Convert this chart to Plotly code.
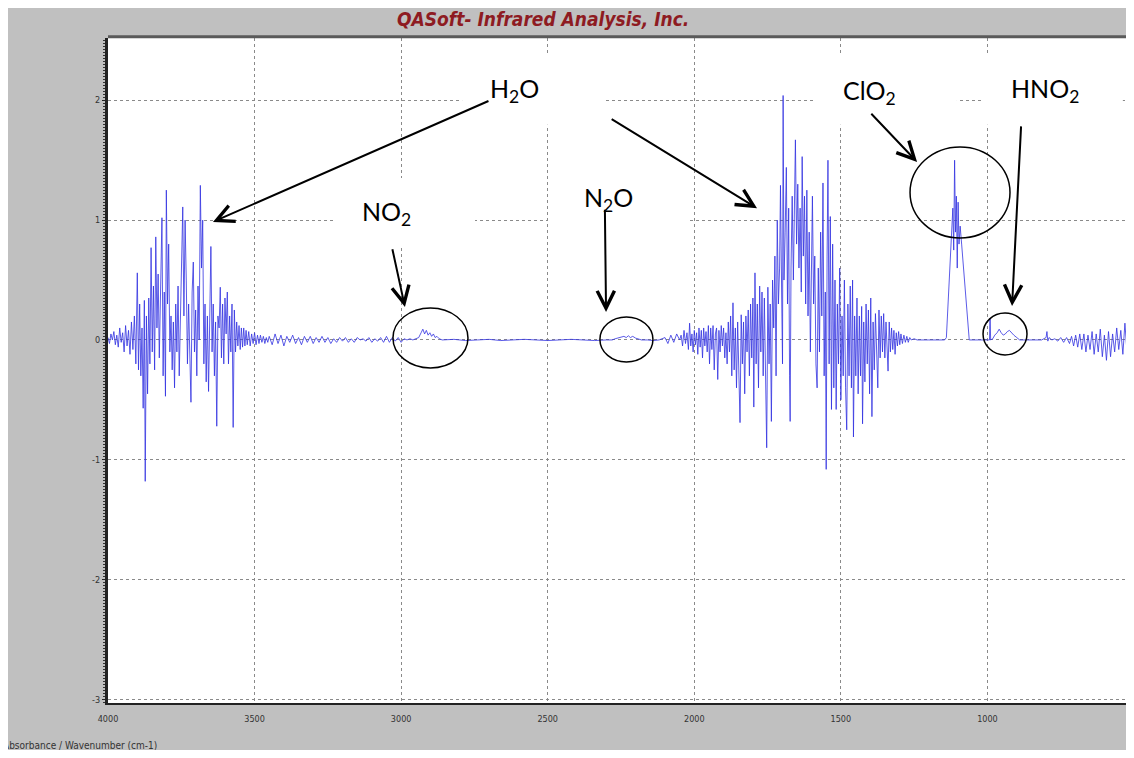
import plotly.graph_objects as go

# ---------------- data (wavenumber cm-1, absorbance) ----------------
oh_stretch = [
    (4000, 0.02), (3995, -0.03), (3990, 0.05), (3985, 0.0), (3980, 0.07), (3975, -0.04),
    (3970, 0.04), (3965, -0.06), (3960, 0.1), (3955, -0.02), (3950, 0.06), (3945, -0.1),
    (3940, 0.12), (3935, -0.05), (3930, 0.08), (3925, -0.12), (3920, 0.15), (3915, -0.08),
    (3910, 0.2), (3905, -0.2), (3900, 0.56), (3896, -0.25), (3892, 0.3), (3888, -0.3),
    (3884, 0.1), (3880, -0.57), (3876, 0.33), (3873, -1.18), (3869, 0.2), (3865, -0.45),
    (3861, 0.35), (3857, -0.2), (3853, 0.77), (3849, -0.1), (3845, 0.45), (3841, -0.25),
    (3837, 0.86), (3833, 0.1), (3829, 0.55), (3825, -0.15), (3820, 0.5), (3816, 1.02),
    (3812, -0.3), (3808, 0.4), (3804, -0.47), (3801, 1.25), (3797, 0.3), (3793, 0.8),
    (3789, -0.1), (3785, 0.2), (3781, -0.25), (3777, 0.15), (3773, -0.4), (3769, 0.3),
    (3765, -0.1), (3761, 0.45), (3757, -0.3), (3753, 0.25), (3749, 0.6), (3745, 1.11),
    (3741, 0.2), (3737, 1.0), (3733, 0.5), (3729, -0.2), (3725, 0.3), (3721, -0.15),
    (3717, -0.52), (3713, 0.4), (3709, 0.65), (3705, -0.1), (3701, 0.25), (3697, -0.3),
    (3693, 0.45), (3689, 0.0), (3685, 1.29), (3681, 0.6), (3677, 1.0), (3673, -0.2),
    (3669, 0.3), (3665, -0.35), (3661, 0.2), (3657, -0.43), (3653, 0.4), (3649, 0.78),
    (3645, -0.1), (3641, 0.3), (3637, -0.3), (3633, 0.15), (3629, -0.72), (3625, 0.2),
    (3621, 0.1), (3617, 0.44), (3613, -0.15), (3609, 0.3), (3605, -0.2), (3601, 0.35),
    (3597, 0.05), (3593, 0.4), (3589, -0.2), (3585, 0.2), (3581, -0.1), (3577, 0.3),
    (3573, -0.73), (3569, 0.25), (3565, -0.1), (3561, 0.15), (3557, -0.05), (3553, 0.12),
    (3549, -0.08), (3545, 0.1), (3541, -0.06), (3537, 0.1), (3533, -0.05), (3529, 0.08),
    (3525, -0.04), (3520, 0.07), (3515, -0.05), (3510, 0.05), (3505, -0.03), (3500, 0.06),
    (3495, -0.04), (3490, 0.04), (3485, -0.03), (3480, 0.04), (3475, -0.02), (3470, 0.03),
    (3465, -0.03), (3460, 0.02), (3455, -0.02),
]

mid_range = [
    (3450, 0.03), (3440, -0.04), (3430, 0.05), (3420, -0.03), (3410, 0.04), (3400, -0.05),
    (3390, 0.03), (3380, -0.02), (3370, 0.04), (3360, -0.03), (3350, 0.02), (3340, -0.04),
    (3330, 0.03), (3320, -0.02), (3310, 0.03), (3300, -0.03), (3290, 0.02), (3280, -0.02),
    (3270, 0.03), (3260, -0.02), (3250, 0.02), (3240, -0.03), (3230, 0.01), (3220, -0.02),
    (3210, 0.02), (3200, -0.01), (3190, 0.02), (3180, -0.02), (3170, 0.01), (3160, -0.02),
    (3150, 0.02), (3140, 0.0), (3130, 0.01), (3120, -0.01), (3110, 0.02), (3100, -0.02),
    (3090, 0.01), (3080, -0.01), (3070, 0.02), (3060, -0.02), (3050, 0.03), (3040, -0.02),
    (3030, 0.02), (3020, -0.01), (3010, 0.02), (3000, -0.02), (2990, 0.01), (2980, 0.0),
    (2970, 0.01), (2960, 0.0), (2950, 0.01), (2940, 0.02),
    # NO2 band
    (2932, 0.06), (2926, 0.09), (2920, 0.05), (2914, 0.08), (2908, 0.04), (2902, 0.06),
    (2896, 0.03), (2890, 0.05), (2884, 0.02), (2878, 0.03), (2870, 0.01), (2860, 0.0),
    (2820, 0.005), (2780, -0.005), (2740, 0.0), (2700, 0.005), (2660, -0.005), (2620, 0.0),
    (2580, 0.005), (2540, 0.0), (2500, -0.005), (2460, 0.0), (2420, 0.005), (2380, 0.0),
    (2340, -0.005), (2300, 0.0),
    # N2O band
    (2280, 0.0), (2270, 0.01), (2260, 0.015), (2250, 0.02), (2240, 0.03), (2232, 0.02),
    (2225, 0.035), (2218, 0.02), (2210, 0.03), (2200, 0.015), (2190, 0.01), (2180, 0.0),
    (2160, 0.0), (2140, -0.005), (2120, 0.0), (2100, 0.02), (2090, -0.03), (2080, 0.04),
    (2070, -0.02), (2060, 0.05),
]

h2o_bend = [
    (2050, 0.0), (2045, 0.04), (2040, -0.05), (2035, 0.08), (2030, -0.03), (2025, 0.06),
    (2020, -0.08), (2016, 0.14), (2012, -0.05), (2008, 0.05), (2004, -0.1), (2000, 0.08),
    (1996, -0.04), (1992, 0.06), (1988, -0.12), (1984, 0.1), (1980, -0.06), (1976, 0.08),
    (1972, -0.15), (1968, 0.1), (1964, -0.05), (1960, 0.07), (1956, -0.1), (1952, 0.12),
    (1948, -0.2), (1944, 0.1), (1940, -0.08), (1936, 0.12), (1932, -0.25), (1928, 0.05),
    (1924, 0.1), (1920, -0.33), (1916, 0.08), (1912, -0.1), (1908, 0.12), (1904, -0.05),
    (1900, 0.1), (1896, -0.15), (1892, 0.06), (1888, -0.2), (1884, 0.15), (1880, -0.1),
    (1876, 0.2), (1872, -0.3), (1868, 0.31), (1864, -0.25), (1860, 0.1), (1856, -0.4),
    (1852, 0.15), (1848, -0.35), (1844, -0.69), (1840, 0.21), (1836, -0.2), (1832, 0.15),
    (1828, -0.45), (1824, 0.2), (1820, -0.1), (1816, 0.25), (1812, -0.3), (1808, 0.3),
    (1804, -0.15), (1800, 0.35), (1797, -0.56), (1793, 0.56), (1789, -0.2), (1785, 0.3),
    (1781, -0.4), (1777, 0.45), (1773, -0.1), (1769, 0.4), (1765, -0.3), (1761, 0.35),
    (1757, -0.5), (1753, -0.9), (1749, 0.44), (1745, -0.2), (1741, 0.3), (1737, -0.68),
    (1733, 0.5), (1729, 0.1), (1725, 0.7), (1721, -0.3), (1717, 1.0), (1713, 0.3),
    (1709, 0.6), (1706, 1.29), (1702, 0.4), (1699, -0.2), (1697, 2.04), (1694, 0.5),
    (1690, 0.9), (1686, 1.44), (1682, 0.3), (1678, 1.1), (1675, -0.3), (1673, -0.68),
    (1670, 0.6), (1666, 1.2), (1662, 0.5), (1658, 1.0), (1655, 1.67), (1651, 0.8),
    (1647, 1.3), (1643, 0.6), (1639, 1.1), (1635, 0.4), (1632, 1.53), (1628, 0.7),
    (1624, 1.2), (1620, 0.3), (1616, 1.25), (1612, 0.2), (1608, 0.9), (1604, -0.1),
    (1600, 0.5), (1597, 1.2), (1593, 0.3), (1589, 0.7), (1585, -0.2), (1581, -0.4),
    (1577, 0.6), (1573, -0.1), (1569, 0.9), (1565, 0.2), (1561, 1.31), (1557, -0.3),
    (1553, 0.4), (1550, -1.08), (1547, 0.7), (1544, 1.5), (1540, -0.2), (1536, 1.03),
    (1532, -0.58), (1528, 0.8), (1524, -0.4), (1520, 0.5), (1516, -0.58), (1512, 0.3),
    (1508, -0.2), (1504, 0.6), (1500, -0.5), (1496, 0.2), (1492, -0.3), (1488, 0.5),
    (1484, -0.4), (1480, -0.75), (1476, 0.3), (1472, -0.3), (1468, 0.45), (1464, -0.4),
    (1460, 0.5), (1457, -0.81), (1453, 0.2), (1449, -0.3), (1445, 0.35), (1441, -0.45),
    (1437, 0.2), (1433, -0.3), (1429, 0.28), (1426, -0.7), (1422, 0.15), (1418, -0.35),
    (1414, 0.3), (1410, -0.2), (1406, 0.25), (1402, -0.45), (1398, 0.35), (1394, -0.64),
    (1390, 0.15), (1386, -0.25), (1382, 0.22), (1378, -0.2), (1374, -0.4), (1370, 0.25),
    (1366, -0.15), (1362, 0.2), (1358, -0.1), (1354, 0.22), (1350, -0.15), (1346, 0.15),
    (1342, -0.1), (1339, -0.26), (1335, 0.15), (1331, -0.1), (1327, 0.1), (1323, -0.08),
    (1319, 0.08), (1315, -0.12), (1311, 0.06), (1307, -0.05), (1303, 0.07), (1299, -0.04),
    (1295, 0.05), (1290, -0.03), (1285, 0.04), (1280, -0.02), (1275, 0.03), (1270, -0.02),
    (1265, 0.02), (1260, 0.0), (1250, 0.01), (1240, 0.0),
]

clo2_band = [
    (1200, 0.0), (1160, 0.0), (1146, 0.0), (1140, 0.02), (1134, 0.3), (1128, 0.65),
    (1122, 0.85), (1118, 1.1), (1115, 0.75), (1112, 1.5), (1109, 0.9), (1106, 1.2),
    (1103, 0.6), (1100, 1.15), (1097, 0.8), (1093, 0.95), (1088, 0.8), (1082, 0.6),
    (1075, 0.35), (1068, 0.12), (1062, 0.0),
]

low_range = [
    (1030, 0.0), (1000, 0.0), (993, 0.0), (991, 0.18), (989, 0.0), (982, 0.01),
    # HNO2 band
    (975, 0.04), (967, 0.06), (960, 0.09), (953, 0.06), (946, 0.04), (939, 0.05),
    (932, 0.07), (925, 0.08), (918, 0.06), (910, 0.04), (900, 0.02), (890, 0.0),
    (870, 0.0), (840, 0.0), (815, 0.0), (800, 0.02), (797, 0.07), (794, -0.01),
    (790, 0.02), (780, 0.0), (770, 0.01), (760, -0.01), (750, 0.02), (740, -0.02),
    (730, 0.02), (720, -0.03), (713, 0.03), (706, -0.05), (699, 0.04), (692, -0.06),
    (685, 0.05), (678, -0.08), (671, 0.05), (664, -0.1), (657, 0.04), (650, -0.08),
    (643, 0.07), (636, -0.12), (629, 0.05), (622, -0.1), (615, 0.09), (608, -0.14),
    (601, 0.04), (594, -0.17), (587, 0.07), (580, -0.14), (573, 0.05), (566, -0.1),
    (559, 0.1), (552, -0.08), (545, 0.08), (538, -0.12), (531, 0.14), (524, -0.1),
    (517, 0.12), (512, -0.05), (508, 0.1), (506, -0.85), (503, -0.3), (500, -0.4),
]

x_ticks = [4000, 3500, 3000, 2500, 2000, 1500, 1000, 500]
y_ticks = [-3, -2, -1, 0, 1, 2]

# ---------------- figure ----------------
spectrum = oh_stretch + mid_range + h2o_bend + clo2_band + low_range
wn = [p[0] for p in spectrum]
ab = [p[1] for p in spectrum]

fig = go.Figure()
fig.add_trace(go.Scatter(
    x=wn, y=ab, mode="lines",
    line=dict(color="rgba(50,50,225,0.8)", width=1),
    hoverinfo="skip", showlegend=False,
))

narrow = "Liberation Sans Narrow, DejaVu Sans Condensed, Liberation Sans"
tick_font = dict(family=narrow, size=9, color="#333333")

PW = 1018.0  # plot-area width in px
PH = 665.0   # plot-area height in px

fig.update_layout(
    width=1118, height=742,
    margin=dict(l=100, r=0, t=30, b=47),
    paper_bgcolor="#c0c0c0",
    plot_bgcolor="white",
    showlegend=False,
    xaxis=dict(
        range=[4000, 527.3], tickvals=x_ticks, ticktext=[str(v) for v in x_ticks],
        showgrid=True, gridcolor="#8a8a8a", griddash="dot", gridwidth=1,
        showline=True, linecolor="#222222", linewidth=2,
        ticks="", zeroline=False, tickfont=tick_font, ticklabelstandoff=6,
    ),
    yaxis=dict(
        range=[-3.03, 2.52], tickvals=y_ticks, ticktext=[str(v) for v in y_ticks],
        showgrid=True, gridcolor="#8a8a8a", griddash="dot", gridwidth=1,
        showline=True, linecolor="#222222", linewidth=3,
        ticks="outside", ticklen=3, tickcolor="#222222",
        minor=dict(dtick=0.025, ticks="outside", ticklen=2, tickcolor="#333333", showgrid=False),
        zeroline=False, tickfont=tick_font,
    ),
)

shapes = []
# top border of the plot
shapes.append(dict(type="line", xref="paper", yref="paper", x0=0, x1=1, y0=1.002, y1=1.002,
                   line=dict(color="#5a5a5a", width=3), layer="above"))

# white label boxes (hide gridlines behind labels)
label_boxes = [
    (2792, 2311, 1.795, 2.379),   # H2O
    (3229, 2748, 0.768, 1.352),   # NO2
    (2499, 2018, 0.893, 1.477),   # N2O
    (1588, 1104, 1.795, 2.379),   # ClO2
    (1015, 538, 1.795, 2.379),    # HNO2
]
for x0, x1, y0, y1 in label_boxes:
    shapes.append(dict(type="rect", xref="x", yref="y", x0=x0, x1=x1, y0=y0, y1=y1,
                       fillcolor="white", line=dict(width=0), layer="above"))

# circles around bands
circles = [
    (3028, 2772, -0.234, 0.267),  # NO2
    (2322, 2141, -0.184, 0.192),  # N2O
    (1264, 923, 0.851, 1.611),    # ClO2
    (1015, 865, -0.125, 0.225),   # HNO2
]
for x0, x1, y0, y1 in circles:
    shapes.append(dict(type="circle", xref="x", yref="y", x0=x0, x1=x1, y0=y0, y1=y1,
                       line=dict(color="black", width=1.5), layer="above"))
fig.update_layout(shapes=shapes)

ann = []
label_font = dict(family="Lato, Open Sans, sans-serif", size=25, color="black")
labels = [
    ("H<sub>2</sub>O", 2704, 2.087),
    ("NO<sub>2</sub>", 3140, 1.060),
    ("N<sub>2</sub>O", 2383, 1.177),
    ("ClO<sub>2</sub>", 1500, 2.070),
    ("HNO<sub>2</sub>", 926, 2.087),
]
for txt, x, y in labels:
    ann.append(dict(text=txt, x=x, y=y, xref="x", yref="y", xanchor="left", yanchor="middle",
                    showarrow=False, font=label_font))

arrows = [
    (2697, 2.00, 3642, 0.985),   # H2O left
    (2287, 1.85, 1786, 1.10),    # H2O right
    (3031, 0.77, 2987, 0.275),   # NO2
    (2305, 1.10, 2301, 0.234),   # N2O
    (1401, 1.90, 1240, 1.486),   # ClO2
    (885, 1.795, 916, 0.284),    # HNO2
]
for ax, ay, x, y in arrows:
    ann.append(dict(text="", x=x, y=y, ax=ax, ay=ay, xref="x", yref="y", axref="x", ayref="y",
                    showarrow=True, arrowhead=5, arrowsize=1.7, arrowwidth=2,
                    arrowcolor="black", standoff=0, startstandoff=0))

ann.append(dict(text="<b><i>QASoft- Infrared Analysis, Inc.</i></b>",
                x=(543 - 108) / PW, y=(703 - 19) / PH, xref="paper", yref="paper",
                xanchor="center", yanchor="middle", showarrow=False,
                font=dict(family=narrow, size=19, color="#8e1b22")))
ann.append(dict(text="Absorbance / Wavenumber (cm-1)",
                x=(1 - 108) / PW, y=(703 - 745) / PH, xref="paper", yref="paper",
                xanchor="left", yanchor="middle", showarrow=False,
                font=dict(family=narrow, size=10, color="#333333")))
fig.update_layout(annotations=ann)

fig.write_html("out.html")
